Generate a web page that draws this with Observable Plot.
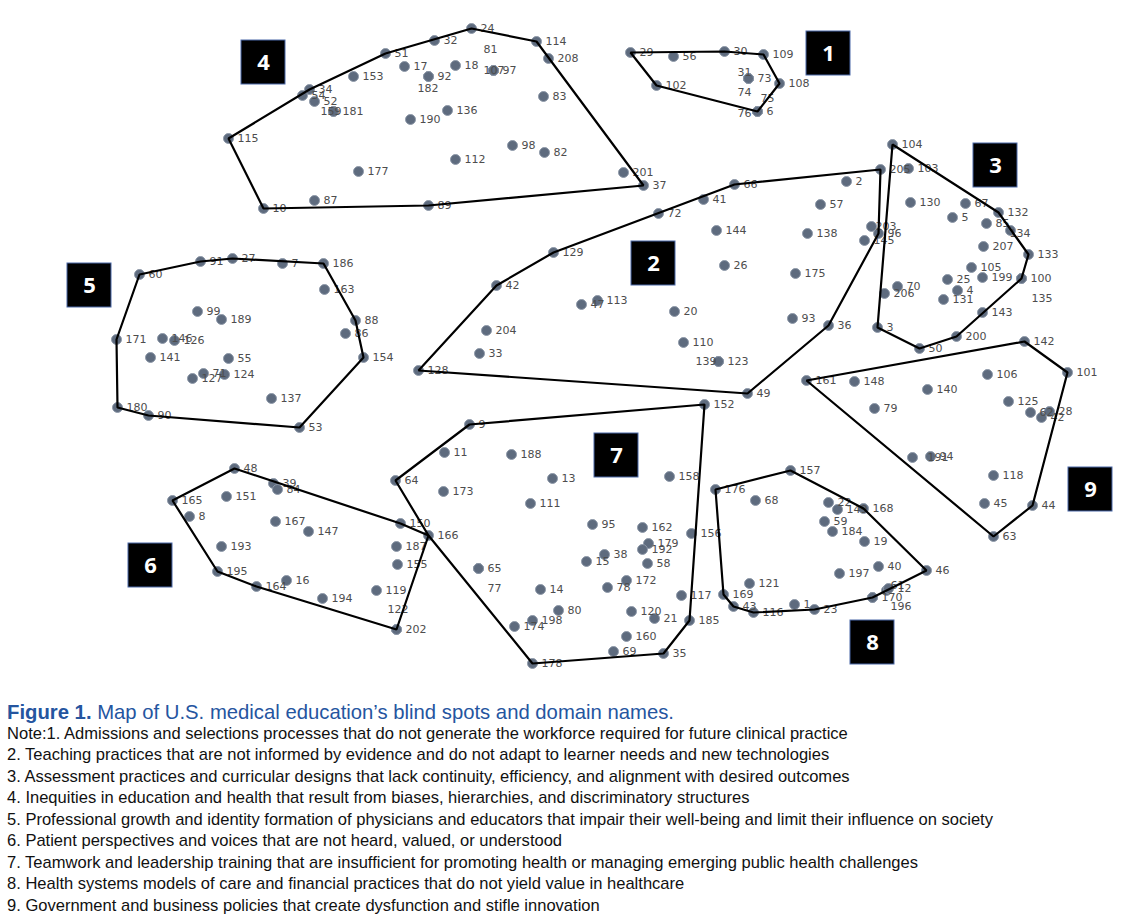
<!DOCTYPE html>
<html>
<head>
<meta charset="utf-8">
<script src="https://cdn.jsdelivr.net/npm/d3@7"></script>
<script src="https://cdn.jsdelivr.net/npm/@observablehq/plot@0.6"></script>
<style>
  html, body { margin: 0; padding: 0; background: #fff; }
  #chart svg { display: block; }
  #caption { font-family: "Liberation Sans", Arial, sans-serif; padding-left: 7px; margin-top: 11px; }
  #caption .fig { color: #25559f; font-size: 20.3px; line-height: 22px; white-space: nowrap; }
  #caption .fig b { font-weight: 600; }
  #caption .note { color: #111; font-size: 16.55px; line-height: 21.45px; white-space: nowrap; }
</style>
</head>
<body>
<div id="chart"></div>
<div id="caption"></div>
<script>
// ---- Data: [statement id, map x, map y] per cluster (map coordinates) ----
const cluster1 = [[29,630,52],[56,673,56],[30,724,51],[109,763,54],[31,748,78],[73,748,78],[108,779,83],[74,748,78],[75,757,111],[6,757,111],[76,757,111],[102,656,85]];
const cluster2 = [[205,880,169],[2,846,181],[66,734,184],[41,703,199],[72,658,213],[57,820,204],[144,716,230],[138,807,233],[26,724,265],[175,795,273],[20,674,311],[93,792,318],[36,828,325],[110,683,342],[139,718,361],[123,718,361],[49,747,393],[129,553,252],[42,496,285],[47,581,304],[113,597,300],[204,486,330],[33,479,353],[128,418,370],[203,871,226],[96,878,233],[145,864,240]];
const cluster3 = [[104,892,144],[103,908,168],[130,910,202],[67,965,203],[5,952,217],[132,998,212],[85,986,223],[134,1010,230],[207,983,246],[133,1028,254],[105,971,267],[25,947,279],[199,982,277],[100,1021,278],[4,957,290],[70,897,286],[206,884,293],[131,943,299],[135,1021,278],[143,982,312],[3,877,327],[200,956,336],[50,919,348]];
const cluster4 = [[51,385,53],[17,404,66],[92,428,76],[182,428,76],[153,353,76],[34,309,89],[54,302,95],[52,314,101],[159,333,111],[181,333,111],[115,228,138],[177,358,171],[87,314,200],[10,263,208],[89,428,205],[190,410,119],[24,471,28],[32,434,40],[81,493,70],[107,493,70],[97,493,70],[18,455,65],[114,536,41],[208,548,58],[83,543,96],[136,447,110],[98,512,145],[82,544,152],[112,455,159],[201,623,172],[37,643,185]];
const cluster5 = [[60,139,274],[91,200,261],[27,232,258],[7,282,263],[186,323,263],[163,324,289],[88,355,320],[86,345,333],[154,363,357],[99,197,311],[189,221,319],[171,116,339],[146,162,338],[126,174,340],[141,150,357],[55,228,358],[71,203,373],[124,224,374],[127,192,378],[137,271,398],[180,117,407],[90,148,415],[53,299,427]];
const cluster6 = [[48,234,468],[39,273,483],[84,277,489],[165,172,500],[151,226,496],[8,189,516],[167,275,521],[147,308,531],[193,221,546],[195,217,571],[16,286,580],[164,256,586],[194,322,598],[119,376,590],[122,396,629],[202,396,629],[150,400,523],[187,396,546],[155,397,564]];
const cluster7 = [[9,469,424],[11,444,452],[188,511,454],[64,395,480],[173,443,491],[13,552,478],[111,530,503],[95,592,524],[166,428,535],[65,478,568],[77,478,568],[15,586,561],[38,604,554],[14,540,589],[78,607,587],[172,626,580],[80,558,610],[198,532,620],[174,514,626],[178,532,663],[152,704,404],[158,669,476],[162,642,527],[156,691,533],[179,648,543],[192,642,549],[58,647,563],[117,681,595],[120,631,611],[21,654,618],[185,689,620],[160,626,636],[69,613,651],[35,663,653]];
const cluster8 = [[157,790,470],[176,715,489],[68,755,500],[22,828,502],[149,837,509],[168,863,508],[59,824,521],[184,832,531],[19,864,541],[40,878,566],[197,839,573],[46,926,570],[61,886,590],[12,888,588],[170,872,597],[196,872,597],[121,749,583],[169,723,594],[43,733,606],[116,753,612],[1,794,604],[23,814,609]];
const cluster9 = [[142,1024,341],[101,1067,372],[161,806,380],[148,854,381],[140,927,389],[106,987,374],[79,874,408],[125,1008,401],[62,1030,412],[42,1041,417],[28,1049,411],[191,912,457],[94,930,456],[118,993,475],[45,984,503],[44,1032,505],[63,993,536]];

// statements lying on the border of two clusters (used for both outlines)
const sharedBorder = [[166, 6]];

// cluster label boxes
const boxLabels = ["1","2","3","4","5","6","7","8","9"];
const boxX = [828, 653, 995, 263, 89, 150, 616, 872, 1090];
const boxY = [53, 263, 165, 62, 285, 565, 455, 642, 489];

// label nudges for crowded statements (dx, dy in px)
const labelShift = {31:[-20,-6],74:[-20,14],75:[-6,-13],76:[-29,2],139:[-32,0],203:[-5,0],
  134:[-10,3],135:[1,20],182:[-20,12],159:[-22,0],81:[-19,-21],107:[-19,0],122:[-18,-20],
  77:[0,20],61:[-5,-5],196:[9,9],191:[6,0]};

const noteLines = [
  "Note:1. Admissions and selections processes that do not generate the workforce required for future clinical practice",
  "2. Teaching practices that are not informed by evidence and do not adapt to learner needs and new technologies",
  "3. Assessment practices and curricular designs that lack continuity, efficiency, and alignment with desired outcomes",
  "4. Inequities in education and health that result from biases, hierarchies, and discriminatory structures",
  "5. Professional growth and identity formation of physicians and educators that impair their well-being and limit their influence on society",
  "6. Patient perspectives and voices that are not heard, valued, or understood",
  "7. Teamwork and leadership training that are insufficient for promoting health or managing emerging public health challenges",
  "8. Health systems models of care and financial practices that do not yield value in healthcare",
  "9. Government and business policies that create dysfunction and stifle innovation"
];

// ---- Build tables ----
const clusters = [cluster1, cluster2, cluster3, cluster4, cluster5, cluster6, cluster7, cluster8, cluster9];
const points = clusters.flatMap((c, i) => c.map(([id, x, y]) => ({id, x, y, cluster: i + 1})));
const hullData = points.concat(sharedBorder.map(([id, cl]) => {
  const p = points.find(d => d.id === id);
  return {id, x: p.x, y: p.y, cluster: cl};
}));
const labels = points.map(d => {
  const s = labelShift[d.id] || [0, 0];
  return {text: String(d.id), lx: d.x + 9 + s[0], ly: d.y + s[1]};
});
const boxes = boxLabels.map((t, i) => ({t, x: boxX[i], y: boxY[i]}));

const W = 1128, H = 690;
const chart = Plot.plot({
  width: W, height: H, margin: 0,
  x: {domain: [0, W], range: [0, W], axis: null},
  y: {domain: [0, H], range: [0, H], axis: null},
  style: {background: "#fff"},
  marks: [
    Plot.dot(points, {x: "x", y: "y", r: 5, fill: "#5e6b7e", stroke: "#8e99a9", strokeWidth: 1}),
    Plot.text(labels, {x: "lx", y: "ly", text: "text", textAnchor: "start", fontSize: 11,
      fontFamily: "DejaVu Sans", fill: "#4d4d4d"}),
    Plot.hull(hullData, {x: "x", y: "y", z: "cluster", stroke: "#000", strokeWidth: 2.2, fill: "none"}),
    Plot.rect(boxes, {x1: d => d.x - 22, x2: d => d.x + 22, y1: d => d.y - 22, y2: d => d.y + 22,
      fill: "#000", stroke: "#4a68a8", strokeWidth: 1}),
    Plot.text(boxes, {x: "x", y: "y", text: "t", fill: "#fff", fontSize: 22, fontWeight: "bold",
      fontFamily: "Open Sans"})
  ]
});
document.getElementById("chart").appendChild(chart);

const cap = document.getElementById("caption");
const fig = document.createElement("div");
fig.className = "fig";
fig.innerHTML = "<b>Figure 1.</b> Map of U.S. medical education\u2019s blind spots and domain names.";
cap.appendChild(fig);
for (const line of noteLines) {
  const d = document.createElement("div");
  d.className = "note";
  d.textContent = line;
  cap.appendChild(d);
}
</script>
</body>
</html>
